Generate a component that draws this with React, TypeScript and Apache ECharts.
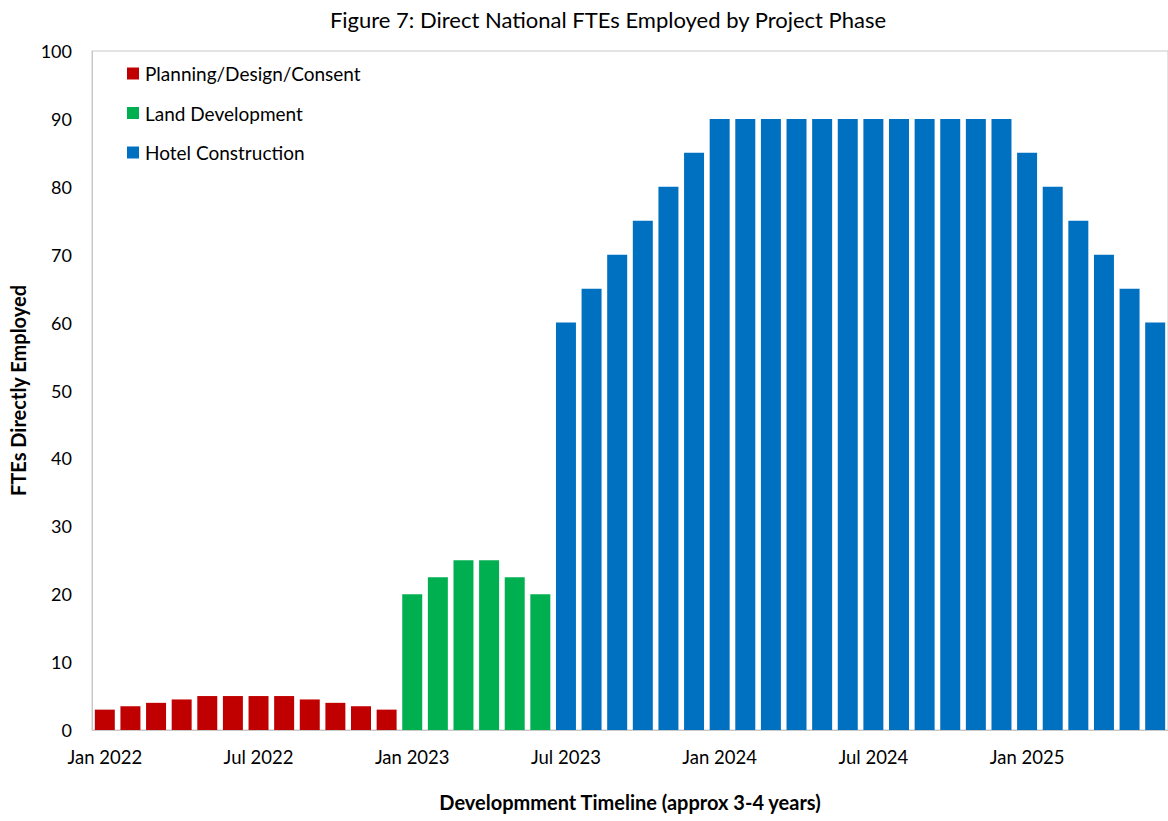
import React, { useEffect, useRef } from "react";
import * as echarts from "echarts";

const months = [
  "Jan 2022","Feb 2022","Mar 2022","Apr 2022","May 2022","Jun 2022","Jul 2022","Aug 2022","Sep 2022","Oct 2022","Nov 2022","Dec 2022",
  "Jan 2023","Feb 2023","Mar 2023","Apr 2023","May 2023","Jun 2023","Jul 2023","Aug 2023","Sep 2023","Oct 2023","Nov 2023","Dec 2023",
  "Jan 2024","Feb 2024","Mar 2024","Apr 2024","May 2024","Jun 2024","Jul 2024","Aug 2024","Sep 2024","Oct 2024","Nov 2024","Dec 2024",
  "Jan 2025","Feb 2025","Mar 2025","Apr 2025","May 2025","Jun 2025",
];

const planning = [3, 3.5, 4, 4.5, 5, 5, 5, 5, 4.5, 4, 3.5, 3];
const land = [20, 22.5, 25, 25, 22.5, 20];
const hotel = [60, 65, 70, 75, 80, 85, 90, 90, 90, 90, 90, 90, 90, 90, 90, 90, 90, 90, 85, 80, 75, 70, 65, 60];

const planningStart = 0;
const landStart = 12;
const hotelStart = 18;

function place(values: number[], start: number): (number | null)[] {
  const out: (number | null)[] = months.map(() => null);
  values.forEach((v, i) => { out[start + i] = v; });
  return out;
}

const FONT = "Lato, 'Open Sans', sans-serif";

export default function App() {
  const ref = useRef<HTMLDivElement>(null);
  useEffect(() => {
    if (!ref.current) return;
    const chart = echarts.init(ref.current, undefined, { renderer: "svg" });
    chart.setOption({
      animation: false,
      textStyle: { fontFamily: FONT },
      title: {
        text: "Figure 7: Direct National FTEs Employed by Project Phase",
        left: 603,
        textAlign: "center",
        top: 3,
        textStyle: { fontFamily: FONT, fontSize: 22, fontWeight: "normal", color: "#000" },
      },
      legend: {
        orient: "vertical",
        left: 122,
        top: 59,
        itemWidth: 12,
        itemHeight: 12,
        itemGap: 20.5,
        icon: "rect",
        textStyle: { fontFamily: FONT, fontSize: 19, color: "#000", padding: [0, 0, 0, 1] },
        data: ["Planning/Design/Consent", "Land Development", "Hotel Construction"],
      },
      grid: { left: 92, right: 0, top: 51, bottom: 91, containLabel: false, show: true, borderColor: "#c8c8c8", borderWidth: 1 },
      xAxis: {
        type: "category",
        data: months,
        name: "Developmment Timeline (approx 3-4 years)",
        nameLocation: "middle",
        nameGap: 62,
        nameTextStyle: { fontFamily: FONT, fontSize: 20, fontWeight: "bold", color: "#000" },
        axisLine: { lineStyle: { color: "#c8c8c8" } },
        axisTick: { show: false },
        axisLabel: { interval: 5, fontSize: 18.5, color: "#000", margin: 17, fontFamily: FONT },
      },
      yAxis: {
        type: "value",
        min: 0,
        max: 100,
        interval: 10,
        name: "FTEs Directly Employed",
        nameLocation: "middle",
        nameGap: 64,
        nameTextStyle: { fontFamily: FONT, fontSize: 20, fontWeight: "bold", color: "#000" },
        axisLine: { show: true, lineStyle: { color: "#c8c8c8" } },
        axisTick: { show: false },
        splitLine: { show: false },
        axisLabel: { fontSize: 18, color: "#000", margin: 20, fontFamily: FONT },
      },
      series: [
        {
          name: "Planning/Design/Consent",
          type: "bar",
          stack: "all",
          data: place(planning, planningStart),
          itemStyle: { color: "#C00000" },
          barCategoryGap: "22%",
        },
        {
          name: "Land Development",
          type: "bar",
          stack: "all",
          data: place(land, landStart),
          itemStyle: { color: "#00B050" },
          barCategoryGap: "22%",
        },
        {
          name: "Hotel Construction",
          type: "bar",
          stack: "all",
          data: place(hotel, hotelStart),
          itemStyle: { color: "#0070C0" },
          barCategoryGap: "22%",
        },
      ],
    });
    return () => chart.dispose();
  }, []);
  return <div ref={ref} style={{ width: 1168, height: 821, position: "absolute", left: 0, top: 0 }} />;
}
